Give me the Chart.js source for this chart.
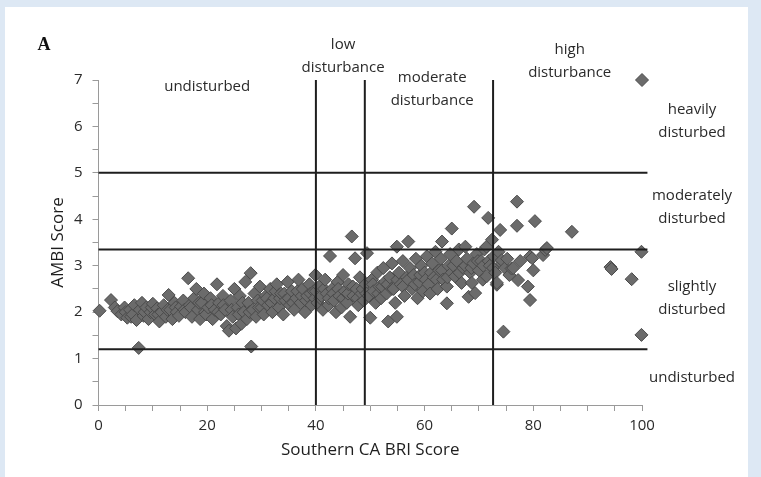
<!DOCTYPE html>
<html>
<head>
<meta charset="utf-8">
<script src="https://cdn.jsdelivr.net/npm/chart.js@4"></script>
<style>
    body { margin: 0; background: #dde8f4; width: 761px; height: 477px; overflow: hidden; position: relative; }
    #hoja { position: absolute; left: 5px; top: 7px; width: 743px; height: 470px; background: #ffffff; }
    #grafico { position: absolute; left: 0; top: 0; }
</style>
</head>
<body>
<div id="hoja"></div>
<canvas id="grafico" width="761" height="477"></canvas>
<script>
// Puntajes por estación: [BRI del sur de CA, AMBI]
const siteScores = [
    [0.2, 2.03], [2.3, 2.26], [3.0, 2.1], [3.5, 2.02], [4.2, 1.95], [4.8, 2.1], [5.0, 2.0], [5.3, 1.88], [5.8, 2.05], [6.0, 1.9],
    [6.3, 1.95], [6.6, 2.15], [7.0, 1.83], [7.4, 1.23], [7.6, 2.05], [8.0, 2.2], [8.3, 1.92], [8.5, 2.0], [8.8, 2.1], [9.2, 1.85],
    [9.6, 2.0], [9.8, 2.1], [10.0, 2.18], [10.4, 1.95], [10.8, 2.08], [11.0, 1.95], [11.2, 1.8], [11.6, 2.0], [12.0, 2.15], [12.4, 1.9],
    [12.7, 2.05], [12.9, 2.37], [13.2, 2.05], [13.6, 1.85], [14.0, 2.2], [14.2, 2.1], [14.4, 2.0], [14.8, 1.92], [15.2, 2.12], [15.6, 2.25],
    [15.8, 2.05], [16.0, 2.0], [16.5, 2.73], [16.8, 2.15], [17.0, 2.1], [17.2, 1.9], [17.6, 2.3], [18.0, 2.5], [18.3, 2.05], [18.5, 2.2],
    [18.7, 1.85], [19.0, 2.2], [19.4, 2.4], [19.6, 2.0], [19.8, 1.95], [20.2, 2.1], [20.6, 2.3], [20.8, 2.15], [21.0, 1.85], [21.4, 2.05],
    [21.8, 2.6], [22.0, 2.0], [22.2, 2.2], [22.5, 1.95], [22.9, 2.35], [23.0, 2.15], [23.3, 2.05], [23.6, 1.7], [24.0, 1.6], [24.3, 2.25],
    [24.5, 2.05], [24.7, 1.9], [25.0, 2.5], [25.3, 1.65], [25.6, 2.1], [25.8, 1.95], [26.0, 2.35], [26.3, 1.75], [26.5, 2.2], [26.7, 2.0],
    [27.0, 2.65], [27.3, 1.85], [27.6, 2.2], [27.8, 2.0], [28.0, 2.84], [28.1, 1.26], [28.4, 2.05], [28.7, 2.4], [29.0, 1.9], [29.3, 2.25],
    [29.5, 2.1], [29.7, 2.55], [30.0, 2.1], [30.2, 2.25], [30.4, 1.95], [30.8, 2.35], [31.0, 2.3], [31.2, 2.15], [31.6, 2.5], [31.8, 2.2],
    [32.0, 2.0], [32.4, 2.3], [32.6, 2.45], [32.8, 2.6], [33.2, 2.1], [33.4, 2.3], [33.6, 2.4], [34.0, 1.95], [34.2, 2.4], [34.4, 2.25],
    [34.8, 2.65], [35.0, 2.3], [35.2, 2.15], [35.6, 2.45], [35.8, 2.2], [36.0, 2.05], [36.4, 2.3], [36.6, 2.45], [36.8, 2.7], [37.2, 2.2],
    [37.4, 2.35], [37.6, 2.5], [38.0, 2.0], [38.2, 2.25], [38.4, 2.35], [38.8, 2.6], [39.0, 2.4], [39.2, 2.15], [39.6, 2.45], [39.8, 2.3],
    [39.9, 2.8], [40.0, 2.45], [40.3, 2.2], [40.6, 2.55], [40.8, 2.3], [41.0, 2.35], [41.3, 2.05], [41.5, 2.5], [41.7, 2.7], [42.0, 2.4],
    [42.3, 2.15], [42.4, 2.3], [42.6, 3.21], [43.0, 2.5], [43.2, 2.4], [43.3, 2.25], [43.7, 2.0], [44.0, 2.65], [44.1, 2.5], [44.3, 2.35],
    [44.7, 2.1], [45.0, 2.8], [45.0, 2.3], [45.3, 2.45], [45.7, 2.2], [45.9, 2.4], [46.0, 2.6], [46.3, 1.9], [46.6, 3.63], [46.8, 2.55],
    [46.9, 2.35], [47.2, 3.16], [47.5, 2.5], [47.6, 2.3], [47.8, 2.15], [48.1, 2.75], [48.4, 2.4], [48.6, 2.5], [48.8, 2.25], [49.1, 2.6],
    [49.3, 2.4], [49.4, 3.27], [49.7, 2.35], [50.0, 1.88], [50.3, 2.7], [50.5, 2.6], [50.6, 2.45], [51.0, 2.2], [51.3, 2.85], [51.5, 2.4],
    [51.7, 2.55], [52.0, 2.3], [52.2, 2.55], [52.4, 2.95], [52.7, 2.65], [53.0, 2.4], [53.2, 2.6], [53.3, 1.8], [53.6, 2.75], [54.0, 3.05],
    [54.0, 2.5], [54.3, 2.5], [54.6, 2.2], [54.9, 3.41], [54.9, 1.9], [55.0, 2.7], [55.3, 2.85], [55.6, 2.6], [56.0, 3.1], [56.0, 2.55],
    [56.3, 2.35], [56.7, 2.75], [57.0, 3.52], [57.0, 2.7], [57.3, 2.95], [57.7, 2.5], [58.0, 2.8], [58.2, 2.6], [58.4, 3.15], [58.7, 2.3],
    [59.0, 2.65], [59.2, 2.8], [59.4, 3.0], [59.7, 2.45], [60.0, 2.85], [60.2, 2.7], [60.4, 3.2], [60.7, 2.6], [61.0, 2.4], [61.2, 2.85],
    [61.4, 3.05], [61.7, 2.75], [62.0, 3.3], [62.2, 2.7], [62.4, 2.5], [62.7, 2.9], [63.0, 3.15], [63.2, 3.52], [63.2, 2.9], [63.4, 2.7],
    [64.1, 2.19], [64.1, 2.55], [64.2, 2.75], [64.4, 3.0], [64.7, 3.25], [65.0, 3.8], [65.0, 2.85], [65.3, 3.0], [65.6, 2.77], [65.9, 3.1],
    [66.3, 3.35], [66.4, 2.85], [66.8, 2.63], [67.1, 2.95], [67.5, 3.41], [67.5, 3.0], [67.8, 3.15], [68.1, 2.33], [68.4, 2.85], [68.6, 2.95],
    [68.7, 2.63], [69.0, 3.05], [69.1, 4.27], [69.3, 2.41], [69.6, 3.25], [69.8, 3.1], [70.0, 2.9], [70.4, 3.1], [70.7, 2.7], [70.8, 3.0],
    [71.0, 3.35], [71.4, 2.77], [71.4, 3.41], [71.7, 4.03], [71.8, 3.1], [72.0, 3.0], [72.4, 3.56], [72.6, 2.95], [72.7, 3.2], [73.0, 2.85],
    [73.3, 2.59], [73.3, 2.63], [73.6, 3.3], [73.9, 3.77], [74.2, 3.05], [74.2, 3.12], [74.5, 1.58], [74.8, 2.95], [75.2, 3.15], [75.6, 2.8],
    [76.0, 2.94], [76.3, 2.95], [77.0, 4.38], [77.0, 3.86], [77.2, 2.69], [77.6, 3.1], [79.0, 2.55], [79.4, 2.26], [79.4, 3.2], [79.8, 3.16],
    [80.0, 2.9], [80.3, 3.96], [81.8, 3.23], [82.2, 3.34], [82.5, 3.38], [87.1, 3.73], [94.2, 2.97], [94.4, 2.93], [98.1, 2.71], [99.9, 3.3],
    [99.9, 1.51], [100, 7.0]
];

// Umbrales AMBI (lineas horizontales) y BRI (lineas verticales)
const umbralesAmbi = [1.2, 3.35, 5];
const umbralesBri = [40, 49, 72.6];

// Etiquetas de las zonas, en unidades de los ejes
const zonasBri = [
    { lineas: ['undisturbed'], x: 20.0, y: 6.85 },
    { lineas: ['low', 'disturbance'], x: 45.0, y: 7.75 },
    { lineas: ['moderate', 'disturbance'], x: 61.4, y: 7.04 },
    { lineas: ['high', 'disturbance'], x: 86.7, y: 7.65 }
];
const zonasAmbi = [
    { lineas: ['heavily', 'disturbed'], x: 109.2, y: 6.35 },
    { lineas: ['moderately', 'disturbed'], x: 109.2, y: 4.5 },
    { lineas: ['slightly', 'disturbed'], x: 109.2, y: 2.54 },
    { lineas: ['undisturbed'], x: 109.2, y: 0.58 }
];

const fuente = "'Open Sans', 'Liberation Sans', sans-serif";

// Lineas de los umbrales como datasets de tipo linea
const datasetsUmbrales = [];
umbralesAmbi.forEach(v => {
    datasetsUmbrales.push({
        type: 'line',
        data: [{ x: 0, y: v }, { x: 101, y: v }],
        borderColor: '#1e1e1e',
        borderWidth: 2,
        pointRadius: 0,
        clip: false,
        order: 0
    });
});
umbralesBri.forEach(v => {
    datasetsUmbrales.push({
        type: 'line',
        data: [{ x: v, y: 0 }, { x: v, y: 7 }],
        borderColor: '#1e1e1e',
        borderWidth: 2,
        pointRadius: 0,
        clip: false,
        order: 0
    });
});

// Plugin para los textos de las zonas y la letra del panel
const textosZonas = {
    id: 'textosZonas',
    afterDraw(chart) {
        const ctx = chart.ctx;
        const sx = chart.scales.x;
        const sy = chart.scales.y;
        ctx.save();
        ctx.fillStyle = '#2a2a2a';
        ctx.font = '15px ' + fuente;
        ctx.textAlign = 'center';
        ctx.textBaseline = 'middle';
        zonasBri.concat(zonasAmbi).forEach(z => {
            const px = sx.getPixelForValue(z.x);
            const py = sy.getPixelForValue(z.y);
            z.lineas.forEach((t, i) => ctx.fillText(t, px, py + i * 22.5));
        });
        ctx.fillStyle = '#111111';
        ctx.font = "bold 18px 'Liberation Serif', 'DejaVu Serif', serif";
        ctx.fillText('A', 44, 45);
        ctx.restore();
    }
};

const ctxGrafico = document.getElementById('grafico');
const miGrafico = new Chart(ctxGrafico, {
    type: 'scatter',
    data: {
        datasets: datasetsUmbrales.concat([{
            label: 'Estaciones',
            data: siteScores.map(p => ({ x: p[0], y: p[1] })),
            pointStyle: 'rectRot',
            pointRadius: 6.5,
            pointBackgroundColor: '#6b6b6b',
            pointBorderColor: '#4a4a4a',
            pointBorderWidth: 1,
            clip: false,
            order: 1
        }])
    },
    options: {
        responsive: false,
        animation: false,
        devicePixelRatio: 1,
        layout: { padding: { left: 0, right: 119, top: 80, bottom: 0 } },
        plugins: {
            legend: { display: false },
            tooltip: { enabled: false }
        },
        scales: {
            x: {
                type: 'linear',
                min: 0,
                max: 100,
                afterFit: scale => { scale.height = 72; },
                ticks: {
                    stepSize: 5,
                    autoSkip: false,
                    maxRotation: 0,
                    padding: 6,
                    color: '#2a2a2a',
                    font: { size: 15, family: fuente },
                    callback: v => (v % 20 === 0 ? v : '')
                },
                grid: { drawOnChartArea: false, drawTicks: true, tickLength: 6, color: '#9a9a9a' },
                border: { display: true, color: '#9a9a9a', width: 1 },
                title: {
                    display: true,
                    text: 'Southern CA BRI Score',
                    color: '#1e1e1e',
                    font: { size: 17, family: fuente },
                    padding: { top: 0, bottom: 17 }
                }
            },
            y: {
                type: 'linear',
                min: 0,
                max: 7,
                afterFit: scale => { scale.width = 98.5; },
                ticks: {
                    stepSize: 0.5,
                    autoSkip: false,
                    padding: 10,
                    color: '#2a2a2a',
                    font: { size: 15, family: fuente },
                    callback: v => (Number.isInteger(v) ? v : '')
                },
                grid: { drawOnChartArea: false, drawTicks: true, tickLength: 6, color: '#9a9a9a' },
                border: { display: true, color: '#9a9a9a', width: 1 },
                title: {
                    display: true,
                    text: 'AMBI Score',
                    color: '#1e1e1e',
                    font: { size: 17, family: fuente },
                    padding: { top: 48, bottom: 0 }
                }
            }
        }
    },
    plugins: [textosZonas]
});
</script>
</body>
</html>
